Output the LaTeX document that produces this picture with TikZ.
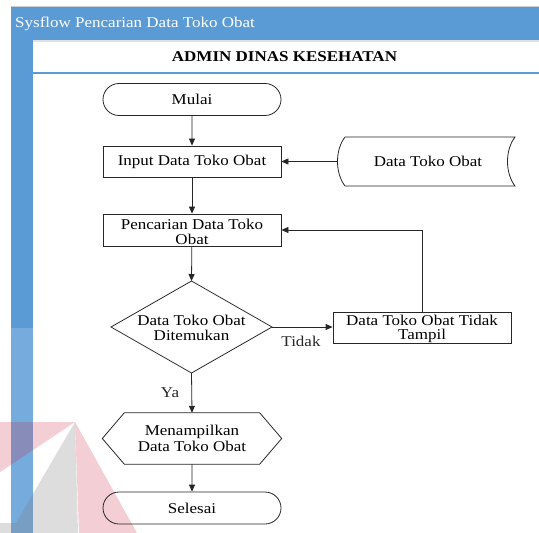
\documentclass[tikz,border=0pt]{standalone}
\usepackage{fontspec}
\usepackage{graphicx}
\setmainfont{Liberation Serif}
\usetikzlibrary{shapes.misc,arrows.meta}
\definecolor{hdrblue}{HTML}{5B9BD5}
\definecolor{colblue}{HTML}{76ABDD}
\definecolor{linegrey}{HTML}{262626}
\definecolor{wmred}{HTML}{C8203C}
\newcommand{\sq}[1]{\scalebox{1}[0.88]{#1}}
\newcommand{\sqd}[1]{\raisebox{-1.5bp}[\height][\depth]{\scalebox{1}[0.88]{#1}}}
\begin{document}
\begin{tikzpicture}[x=1bp,y=-1bp,
  every node/.style={font=\fontsize{17bp}{14.5bp}\selectfont, text=black, align=center, inner sep=0pt},
  procbox/.style={draw=linegrey, line width=0.8bp, minimum width=178bp, minimum height=31bp},
  termbox/.style={draw=linegrey, line width=0.8bp, rounded rectangle, minimum width=178bp, minimum height=32bp},
  flow/.style={draw=linegrey, line width=0.8bp, -{Triangle[length=7bp,width=6bp]}},
  outline/.style={draw=linegrey, line width=0.8bp},
  wmpink/.style={fill=wmred, fill opacity=0.22},
  wmgrey/.style={fill=black!50, fill opacity=0.27}]
\useasboundingbox (0,0) rectangle (539,533);
% swimlane frame
\fill[hdrblue] (11,7) rectangle (539,40);
\draw[black!20, line width=1bp] (11,6.5) -- (539,6.5);
\fill[black!12] (33,40) rectangle (539,42);
\fill[hdrblue] (11,40) rectangle (33,328);
\fill[colblue] (11,328) rectangle (33,533);
\draw[hdrblue, line width=1.2bp] (33,73) -- (539,73);
\node[anchor=west, text=white] (hdr) at (15,24) {\sq{Sysflow Pencarian Data Toko Obat}};
\node[font=\fontsize{17bp}{14.5bp}\selectfont\bfseries] (lane) at (284.5,57) {\sq{ADMIN DINAS KESEHATAN}};
% watermark
\path[wmpink] (0,422) -- (75,422) -- (0,472) -- cycle;
\path[wmpink] (75,422) -- (137,533) -- (79,533) -- cycle;
\path[wmgrey] (75,422) -- (78,533) -- (0,533) -- (0,523) -- (16,523) -- cycle;
% nodes
\node[termbox] (mulai) at (192,99.5) {\sq{Mulai}};
\node[procbox] (input) at (192,161.5) {\sq{Input Data Toko Obat}};
\node[procbox, minimum height=32bp, font=\fontsize{17bp}{15bp}\selectfont] (cari) at (192,230) {\sqd{Pencarian Data Toko}\\\sqd{Obat}};
\node[minimum width=177bp, minimum height=49bp] (dtk) at (428,161.5) {\sq{Data Toko Obat}};
\draw[outline] (345,137) -- (515,137) .. controls (505,150) and (505,173) .. (515,186)
  -- (345,186) .. controls (335,173) and (335,150) .. (345,137);
\coordinate (dtkw) at (337.5,161.5);
\node (dtext) at (191.5,328) {\sq{Data Toko Obat}\\\sq{Ditemukan}};
\coordinate (dtop) at (191.5,281);
\coordinate (dbot) at (191.5,373);
\coordinate (dleft) at (111,327);
\coordinate (dright) at (272,327);
\draw[outline] (dtop) -- (dright) -- (dbot) -- (dleft) -- cycle;
\node[procbox] (tampil) at (422,327.5) {\sqd{Data Toko Obat Tidak}\\\sqd{Tampil}};
\node[minimum width=179bp, minimum height=51bp, font=\fontsize{17bp}{16bp}\selectfont] (hex) at (192,438.5) {\sq{Menampilkan}\\\sq{Data Toko Obat}};
\draw[outline] (hex.west) -- ([xshift=22bp]hex.north west) -- ([xshift=-22bp]hex.north east)
  -- (hex.east) -- ([xshift=-22bp]hex.south east) -- ([xshift=22bp]hex.south west) -- cycle;
\node[termbox] (selesai) at (192,508) {\sq{Selesai}};
% connectors
\draw[flow] (mulai) -- (input);
\draw[flow] (input) -- (cari);
\draw[flow] (dtkw) -- (input.east);
\draw[flow] (cari) -- (dtop);
\draw[flow] (dright) -- (dright -| tampil.west);
\node[text=black!85] (tidak) at (301,341) {\sq{Tidak}};
\draw[flow] (tampil.north) |- (cari.east);
\draw[flow] (dbot) -- (hex.north);
\node[text=black!85] (ya) at (170,392.5) {\sq{Ya}};
\draw[flow] (hex.south) -- (selesai);
\end{tikzpicture}
\end{document}
